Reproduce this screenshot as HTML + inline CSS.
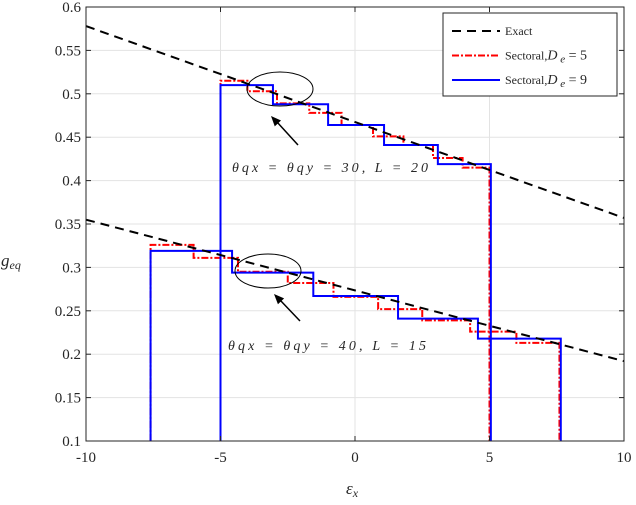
<!DOCTYPE html>
<html><head><meta charset="utf-8"><style>
body{margin:0;background:#fff}
svg text{font-family:"Liberation Serif",serif;fill:#262626}
</style></head><body>
<svg id="c" width="636" height="500" xmlns="http://www.w3.org/2000/svg"></svg>
<script>
const xTicks=[-10,-5,0,5,10];
const yTicks=[0.1,0.15,0.2,0.25,0.3,0.35,0.4,0.45,0.5,0.55,0.6];
const exactUpper=[[-10,0.578],[10,0.357]];
const exactLower=[[-10,0.355],[10,0.192]];
const blueUpperEdges=[-5,-3.05,-1,1.08,3.08,5.05];
const blueUpperLevels=[0.510,0.488,0.464,0.441,0.419];
const redUpperEdges=[-5,-4,-2.9,-1.7,-0.5,0.67,1.8,2.9,4.0,5.0];
const redUpperLevels=[0.515,0.503,0.489,0.478,0.464,0.451,0.441,0.426,0.415];
const blueLowerEdges=[-7.6,-4.57,-1.55,1.6,4.57,7.65];
const blueLowerLevels=[0.319,0.294,0.267,0.241,0.218];
const redLowerEdges=[-7.6,-6,-4.35,-2.5,-0.8,0.86,2.5,4.28,6,7.6];
const redLowerLevels=[0.326,0.311,0.295,0.282,0.266,0.252,0.239,0.226,0.213];

const L=86,R=624,T=7,B=441;
const sx=v=>L+(v+10)/20*(R-L);
const sy=v=>B-(v-0.1)/0.5*(B-T);
const svg=document.getElementById('c');
const NS='http://www.w3.org/2000/svg';
function el(tag,attrs,parent){const e=document.createElementNS(NS,tag);for(const k in attrs)e.setAttribute(k,attrs[k]);(parent||svg).appendChild(e);return e;}

for(const t of xTicks){const g=el('line',{x1:sx(t),x2:sx(t),y1:T,y2:B,stroke:'#e3e3e3','stroke-width':1});

}
for(const t of yTicks){const g=el('line',{x1:L,x2:R,y1:sy(t),y2:sy(t),stroke:'#e3e3e3','stroke-width':1});

}

function stepPath(edges,levels){
  let d=`M${sx(edges[0])},${sy(0.1)} L${sx(edges[0])},${sy(levels[0])}`;
  for(let i=0;i<levels.length;i++){
    d+=` L${sx(edges[i+1])},${sy(levels[i])}`;
    if(i+1<levels.length)d+=` L${sx(edges[i+1])},${sy(levels[i+1])}`;
  }
  d+=` L${sx(edges[edges.length-1])},${sy(0.1)}`;
  return d;
}
const clip=el('clipPath',{id:'pc'});el('rect',{x:L,y:T,width:R-L,height:B-T},clip);
const plot=el('g',{'clip-path':'url(#pc)'});



let p;
p=el('path',{d:stepPath(redUpperEdges,redUpperLevels),fill:'none',stroke:'#ff0000','stroke-width':2,'stroke-dasharray':'7,2,2,2'},plot);


p=el('path',{d:stepPath(redLowerEdges,redLowerLevels),fill:'none',stroke:'#ff0000','stroke-width':2,'stroke-dasharray':'7,2,2,2'},plot);


p=el('path',{d:stepPath(blueUpperEdges,blueUpperLevels),fill:'none',stroke:'#0000ff','stroke-width':2},plot);


p=el('path',{d:stepPath(blueLowerEdges,blueLowerLevels),fill:'none',stroke:'#0000ff','stroke-width':2},plot);


p=el('line',{x1:sx(exactUpper[0][0]),y1:sy(exactUpper[0][1]),x2:sx(exactUpper[1][0]),y2:sy(exactUpper[1][1]),stroke:'#000','stroke-width':2,'stroke-dasharray':'9,6'},plot);


p=el('line',{x1:sx(exactLower[0][0]),y1:sy(exactLower[0][1]),x2:sx(exactLower[1][0]),y2:sy(exactLower[1][1]),stroke:'#000','stroke-width':2,'stroke-dasharray':'9,6'},plot);



p=el('ellipse',{cx:280,cy:89,rx:33,ry:17,fill:'none',stroke:'#000','stroke-width':1});


p=el('ellipse',{cx:268,cy:271,rx:33,ry:17,fill:'none',stroke:'#000','stroke-width':1});


function arrow(x1,y1,x2,y2,name){
  const g=el('g',{});
  
  
  el('line',{x1,y1,x2:x2+6,y2:y2+6,stroke:'#000','stroke-width':1.5},g);
  const a=Math.atan2(y2-y1,x2-x1),s=11,w=0.4;
  el('polygon',{points:`${x2},${y2} ${x2-s*Math.cos(a-w)},${y2-s*Math.sin(a-w)} ${x2-s*Math.cos(a+w)},${y2-s*Math.sin(a+w)}`,fill:'#000'},g);
}
arrow(298,145,271,116,'upper-arrow');
arrow(300,321,274,294,'lower-arrow');
p=el('text',{x:232,y:172,'font-size':14,'font-style':'italic',textLength:196,lengthAdjust:'spacing'});
p.textContent='θqx = θqy = 30, L = 20';


p=el('text',{x:228,y:350,'font-size':14,'font-style':'italic',textLength:198,lengthAdjust:'spacing'});
p.textContent='θqx = θqy = 40, L = 15';



p=el('rect',{x:L,y:T,width:R-L,height:B-T,fill:'none',stroke:'#262626','stroke-width':1});


for(const t of xTicks){
  el('line',{x1:sx(t),x2:sx(t),y1:B,y2:B-5,stroke:'#262626'});el('line',{x1:sx(t),x2:sx(t),y1:T,y2:T+5,stroke:'#262626'});
  const tx=el('text',{x:sx(t),y:B+21,'font-size':15,'text-anchor':'middle'});tx.textContent=t;
  
  
}
for(const t of yTicks){
  el('line',{x1:L,x2:L+5,y1:sy(t),y2:sy(t),stroke:'#262626'});el('line',{x1:R,x2:R-5,y1:sy(t),y2:sy(t),stroke:'#262626'});
  const tx=el('text',{x:L-5,y:sy(t)+5,'font-size':15,'text-anchor':'end'});tx.textContent=String(t);
  
  
}
p=el('text',{x:346,y:494,'font-size':17,'font-style':'italic'});p.textContent='ε';
el('tspan',{dy:3,'font-size':12},p).textContent='x';


p=el('text',{x:1,y:266,'font-size':17,'font-style':'italic'});p.textContent='g';
el('tspan',{dy:3,'font-size':12},p).textContent='eq';



const lg=el('g',{});


el('rect',{x:443,y:13,width:174,height:83,fill:'#fff',stroke:'#262626','stroke-width':1},lg);
const items=[['Exact','#000','9,6',2],['Sectoral,','#ff0000','7,2,2,2',2],['Sectoral,','#0000ff','',2]];
const sub=['','5','9'];
items.forEach((it,i)=>{
  const y=31+i*24.5;
  const e=el('g',{},lg);
  
  
  const ln=el('line',{x1:452,x2:500,y1:y,y2:y,stroke:it[1],'stroke-width':it[3]},e);
  if(it[2])ln.setAttribute('stroke-dasharray',it[2]);
  const t=el('text',{x:505,y:y+4,'font-size':12},e);t.textContent=it[0];
  if(sub[i]){
    const s1=el('tspan',{'font-style':'italic','font-size':14},t);s1.textContent='D';
    const s2=el('tspan',{'font-style':'italic','font-size':11,dy:3},t);s2.textContent=' e';
    const s3=el('tspan',{'font-size':14,dy:-3},t);s3.textContent='  =  '+sub[i];
  }
});
</script>
</body></html>
